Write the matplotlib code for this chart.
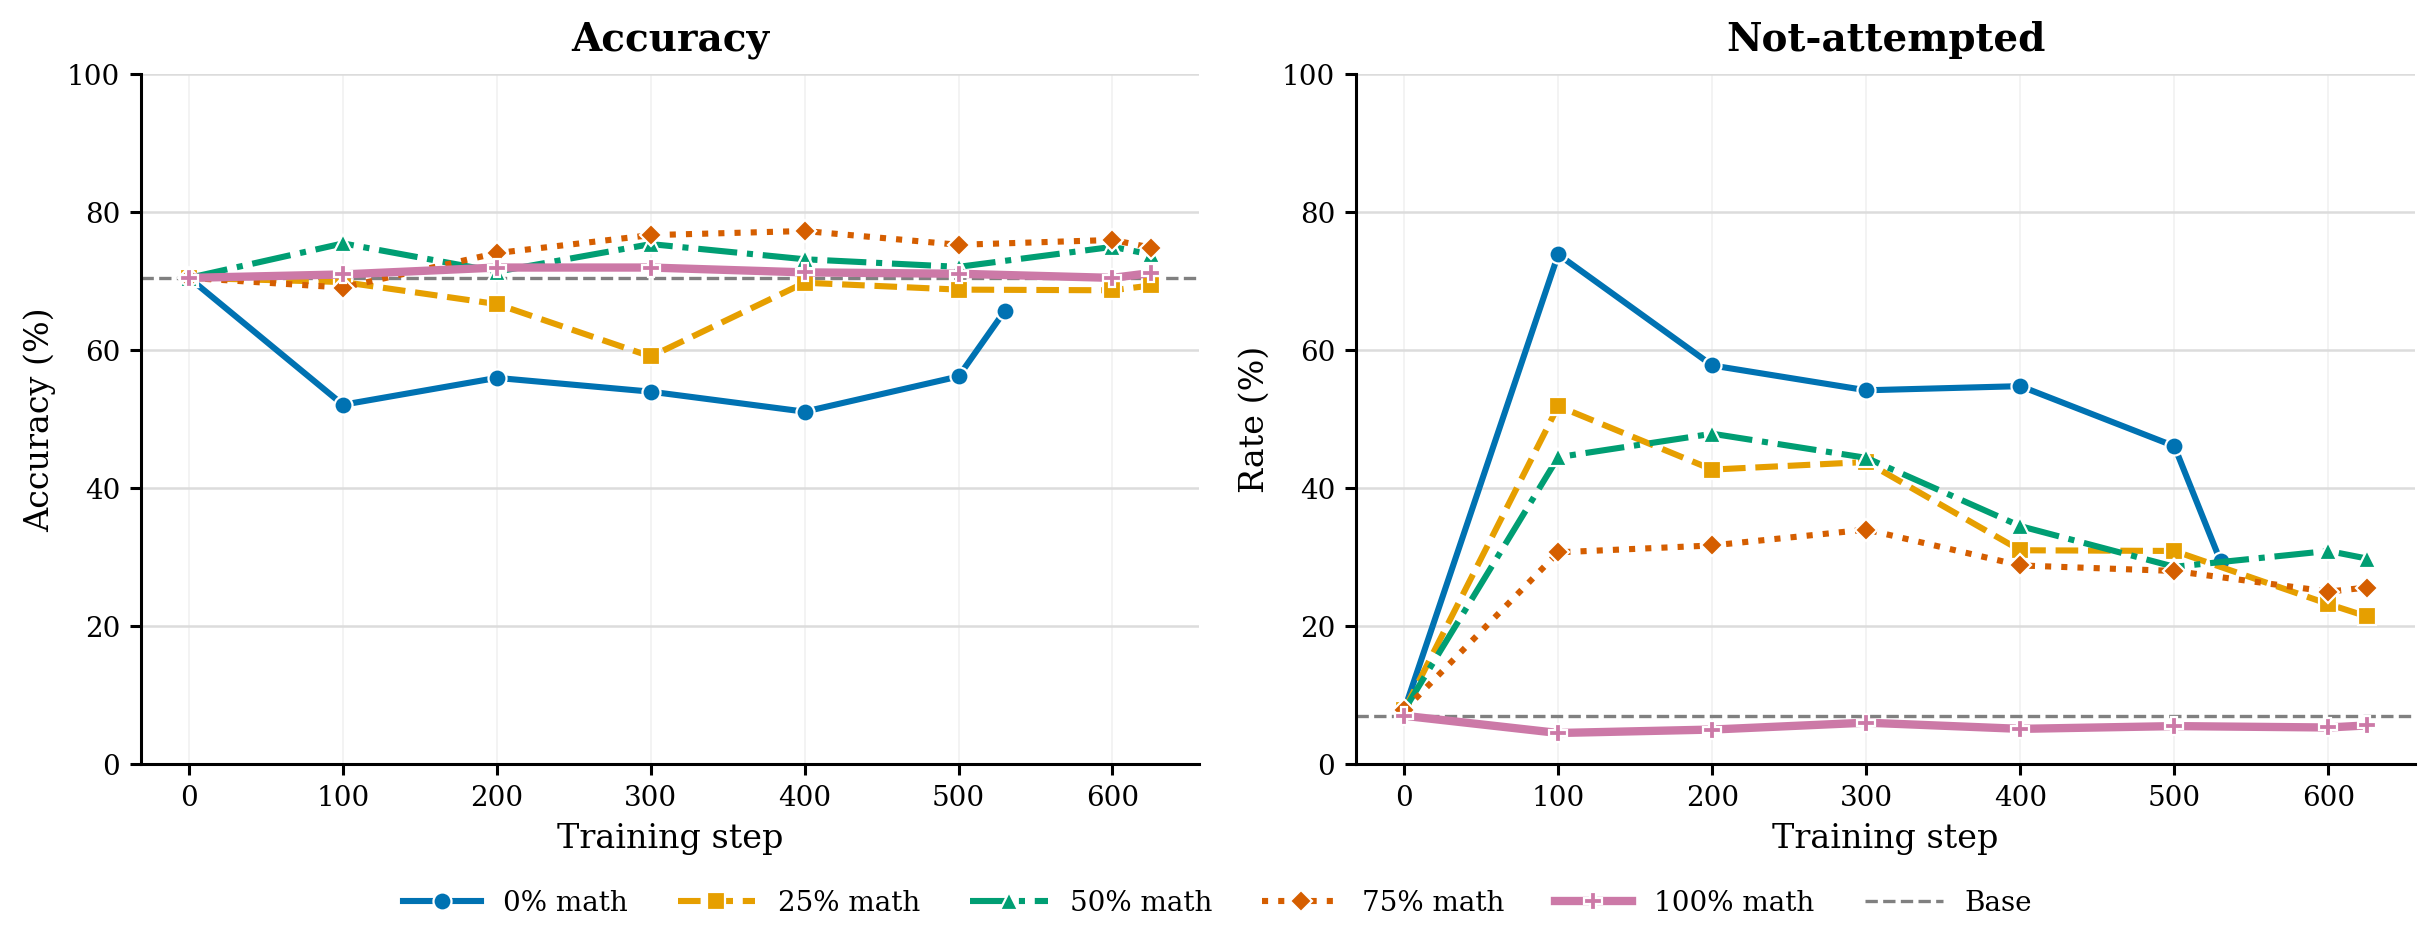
import matplotlib
matplotlib.use("Agg")
import matplotlib.pyplot as plt
import numpy as np

plt.rcParams['font.family'] = 'serif'
plt.rcParams['font.serif'] = ['DejaVu Serif']

# training steps
steps_full = [0, 100, 200, 300, 400, 500, 600, 625]
steps_0 = [0, 100, 200, 300, 400, 500, 530]

labels = ['0% math', '25% math', '50% math', '75% math', '100% math']
colors = ['#0072B2', '#E69F00', '#009E73', '#D55E00', '#CC79A7']
markers = ['o', 's', '^', 'D', 'P']
styles = ['-', '--', '-.', ':', '-']

# Accuracy (%)
acc_0 = [70.5, 52.1, 56.0, 54.0, 51.1, 56.2, 65.7]
acc_25 = [70.5, 69.9, 66.7, 59.1, 69.8, 68.8, 68.7, 69.4]
acc_50 = [70.5, 75.5, 71.4, 75.4, 73.2, 72.1, 75.0, 73.9]
acc_75 = [70.5, 69.1, 74.1, 76.7, 77.3, 75.3, 76.0, 74.9]
acc_100 = [70.5, 71.0, 72.0, 72.0, 71.3, 71.1, 70.5, 71.2]
acc_base = 70.5

# Not-attempted rate (%)
na_0 = [7.8, 73.9, 57.8, 54.2, 54.8, 46.1, 29.4]
na_25 = [7.8, 51.9, 42.7, 43.8, 31.0, 30.9, 23.2, 21.4]
na_50 = [7.8, 44.5, 47.9, 44.4, 34.5, 28.6, 30.9, 29.8]
na_75 = [7.8, 30.7, 31.7, 34.0, 28.8, 28.0, 25.0, 25.6]
na_100 = [7.0, 4.5, 5.0, 6.0, 5.1, 5.5, 5.3, 5.6]
na_base = 7.0

fig = plt.figure(figsize=(12.175, 4.755), dpi=200)
ax1 = fig.add_axes([0.0579, 0.1966, 0.4345, 0.7251])
ax2 = fig.add_axes([0.5569, 0.1966, 0.4349, 0.7251])


def draw(ax, series, base, title, ylabel):
    handles = []
    for i, ys in enumerate(series):
        xs = steps_0 if i == 0 else steps_full
        lw = 3.0 if i == 4 else 2.2
        h, = ax.plot(xs, ys, linestyle=styles[i], color=colors[i], lw=lw,
                     marker=markers[i], markersize=6.5 if markers[i] != 'D' else 5.5,
                     markeredgecolor='white', markeredgewidth=0.8,
                     label=labels[i], zorder=3 + i)
        handles.append(h)
    hb = ax.axhline(base, color='#808080', ls='--', lw=1.2, label='Base', zorder=2)
    handles.append(hb)
    ax.set_ylim(0, 100)
    ax.set_yticks([0, 20, 40, 60, 80, 100])
    ax.set_xticks([0, 100, 200, 300, 400, 500, 600])
    ax.set_xlim(-31.25, 656.25)
    ax.grid(axis='y', color='#dcdcdc', lw=0.9)
    ax.grid(axis='x', color='#f3f3f3', lw=0.7)
    ax.set_axisbelow(True)
    for s in ['top', 'right']:
        ax.spines[s].set_visible(False)
    ax.spines['left'].set_linewidth(1.1)
    ax.spines['bottom'].set_linewidth(1.1)
    ax.tick_params(labelsize=10, width=1.1, length=4)
    ax.set_title(title, fontsize=14, fontweight='bold', pad=8.5)
    ax.set_xlabel('Training step', fontsize=12)
    ax.set_ylabel(ylabel, fontsize=12)
    return handles


handles = draw(ax1, [acc_0, acc_25, acc_50, acc_75, acc_100], acc_base,
               'Accuracy', 'Accuracy (%)')
draw(ax2, [na_0, na_25, na_50, na_75, na_100], na_base,
     'Not-attempted', 'Rate (%)')

fig.legend(handles=handles, loc='center', bbox_to_anchor=(0.5, 0.05),
           ncol=6, frameon=False, fontsize=10, handlelength=2.8,
           columnspacing=1.8)

fig.savefig('out.png', dpi=200)
